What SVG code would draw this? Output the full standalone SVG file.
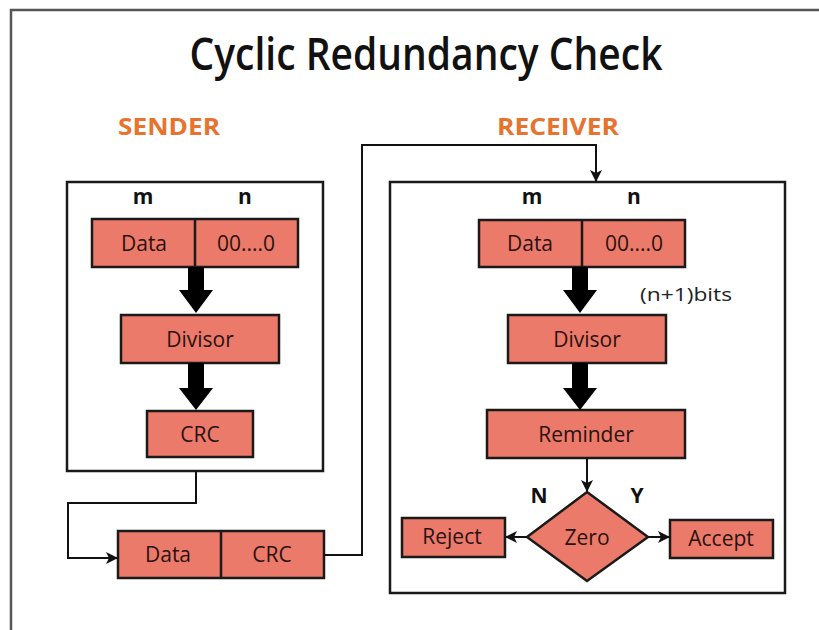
<svg xmlns="http://www.w3.org/2000/svg" width="819" height="630" viewBox="0 0 819 630">
<defs>
<style>
.box{fill:#EC7A6A;stroke:#1a1a1a;stroke-width:2.5}
.frame{fill:none;stroke:#1a1a1a;stroke-width:2.5}
.t{font-family:"Open Sans","Liberation Sans",sans-serif;font-size:21px;fill:#2a1210;text-anchor:middle}
.lbl{font-family:"Open Sans","Liberation Sans",sans-serif;font-size:21px;font-weight:700;fill:#111;text-anchor:middle}
.hd{font-family:"Open Sans","Liberation Sans",sans-serif;font-size:24px;font-weight:700;fill:#E8732C;text-anchor:middle}
.ln{fill:none;stroke:#111;stroke-width:2}
.thick{fill:#000}
</style>
<marker id="ah" markerWidth="12" markerHeight="12" refX="11" refY="6" orient="auto" markerUnits="userSpaceOnUse" viewBox="0 0 12 12">
<path d="M0,0 L12,6 L0,12 L3,6 Z" fill="#111"/>
</marker>
</defs>
<rect width="819" height="630" fill="#fff"/>
<path d="M11,630 V10 H819" fill="none" stroke="#555" stroke-width="2.5"/>
<text x="426" y="70" font-family="'Open Sans','Liberation Sans',sans-serif" font-size="45" font-weight="600" fill="#111" text-anchor="middle" textLength="473" lengthAdjust="spacingAndGlyphs">Cyclic Redundancy Check</text>
<text class="hd" x="169" y="135" textLength="102" lengthAdjust="spacingAndGlyphs">SENDER</text>
<text class="hd" x="558" y="135" textLength="122" lengthAdjust="spacingAndGlyphs">RECEIVER</text>

<g id="sender">
<rect class="frame" x="67" y="182" width="256" height="289"/>
<text class="lbl" x="143" y="204">m</text>
<text class="lbl" x="245" y="204">n</text>
</g>
<g id="sender-data">
<rect class="box" x="92" y="219" width="206" height="48"/>
<line x1="195" y1="219" x2="195" y2="267" stroke="#1a1a1a" stroke-width="2.5"/>
<text class="t" x="144" y="251">Data</text>
<text class="t" x="246" y="251">00....0</text>
</g>
<g id="sender-divisor">
<rect class="box" x="121" y="315" width="158" height="48"/>
<text class="t" x="200" y="347">Divisor</text>
</g>
<g id="sender-crc">
<rect class="box" x="147" y="411" width="106" height="46"/>
<text class="t" x="200" y="442">CRC</text>
</g>

<g id="receiver">
<rect class="frame" x="390" y="182" width="395" height="411"/>
<text class="lbl" x="532" y="204">m</text>
<text class="lbl" x="634" y="204">n</text>
<text x="640" y="301" font-family="'Open Sans','Liberation Sans',sans-serif" font-size="19" fill="#222" textLength="92" lengthAdjust="spacingAndGlyphs">(n+1)bits</text>
</g>
<g id="receiver-data">
<rect class="box" x="479" y="220" width="206" height="47"/>
<line x1="582" y1="220" x2="582" y2="267" stroke="#1a1a1a" stroke-width="2.5"/>
<text class="t" x="530" y="251">Data</text>
<text class="t" x="634" y="251">00....0</text>
</g>
<g id="receiver-divisor">
<rect class="box" x="508" y="315" width="158" height="48"/>
<text class="t" x="587" y="347">Divisor</text>
</g>
<g id="receiver-reminder">
<rect class="box" x="487" y="410" width="198" height="48"/>
<text class="t" x="586" y="442">Reminder</text>
</g>
<g id="zero">
<polygon class="box" points="587,492 648,537 587,581 527,537"/>
<text class="t" x="587" y="545">Zero</text>
<text class="lbl" x="539" y="503">N</text>
<text class="lbl" x="637" y="503">Y</text>
</g>
<g id="reject">
<rect class="box" x="402" y="518" width="103" height="39"/>
<text class="t" x="452" y="544">Reject</text>
</g>
<g id="accept">
<rect class="box" x="670" y="520" width="103" height="38"/>
<text class="t" x="721" y="546">Accept</text>
</g>
<g id="packet">
<rect class="box" x="118" y="531" width="206" height="47"/>
<line x1="221" y1="531" x2="221" y2="578" stroke="#1a1a1a" stroke-width="2.5"/>
<text class="t" x="168" y="562">Data</text>
<text class="t" x="272" y="562">CRC</text>
</g>

<g id="connectors">
<polygon class="thick" points="188,267 204,267 204,290 213,290 196,313 179,290 188,290"/>
<polygon class="thick" points="188,363 204,363 204,388 213,388 196,410 179,388 188,388"/>
<polygon class="thick" points="572,267 588,267 588,290 597,290 580,313 563,290 572,290"/>
<polygon class="thick" points="572,363 588,363 588,388 597,388 580,410 563,388 572,388"/>
<path class="ln" d="M196,471 V503 H68 V558 H117" marker-end="url(#ah)"/>
<path class="ln" d="M324,555 H362 V145 H596 V181" marker-end="url(#ah)"/>
<path class="ln" d="M587,458 V491" marker-end="url(#ah)"/>
<path class="ln" d="M527,537 H506" marker-end="url(#ah)"/>
<path class="ln" d="M648,537 H669" marker-end="url(#ah)"/>
</g>
</svg>
